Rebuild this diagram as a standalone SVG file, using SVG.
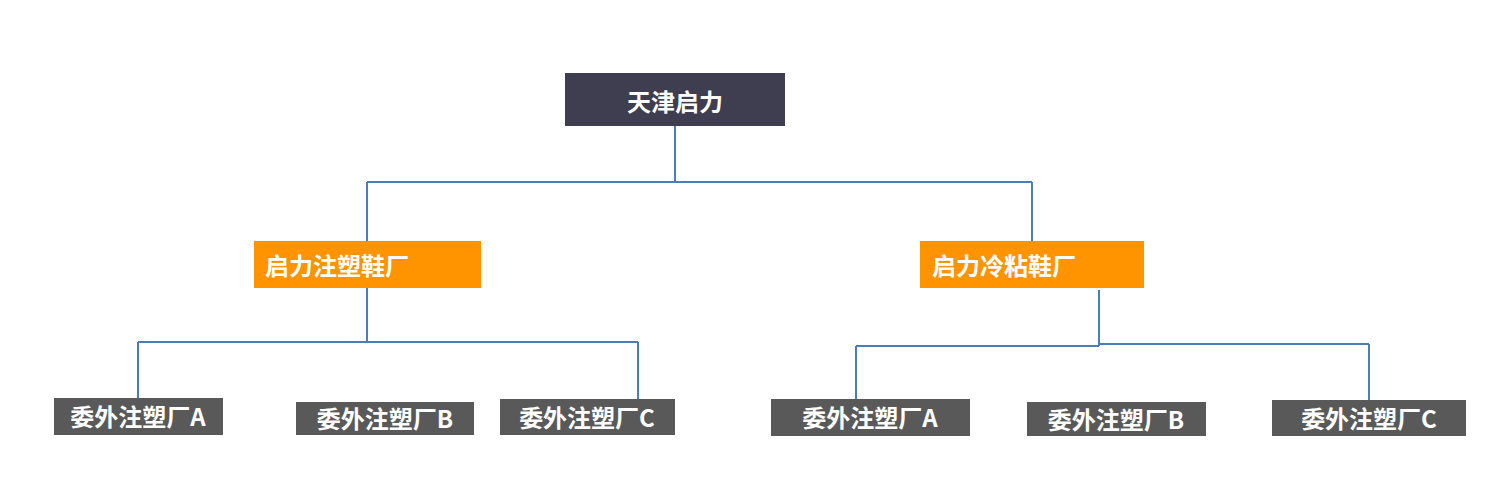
<svg xmlns="http://www.w3.org/2000/svg" width="1511" height="503" viewBox="0 0 1511 503">
<style>
text{font-family:"Noto Sans CJK SC","Liberation Sans",sans-serif;font-weight:bold;fill:#fff;font-size:24px;dominant-baseline:central}
.top{fill:#3f3d50}
.mid{fill:#ff9400}
.leaf{fill:#595959}
.c{text-anchor:middle}
.conn{fill:none;stroke:#4a7ebb;stroke-width:2}
</style>
<rect width="1511" height="503" fill="#fff"/>
<g id="connectors">
<path class="conn" d="M675,126 V182 M367,182 H1032 M367,182 V241 M1032,182 V241"/>
<path class="conn" d="M367,288 V342 M138,342 H638 M138,342 V398 M638,342 V399"/>
<path class="conn" d="M1099,290 V346 M856,346 H1099 M1099,344 H1369 M856,346 V399 M1369,344 V400"/>
</g>
<g id="root"><rect class="top" x="565" y="73" width="220" height="53"/><text class="c" x="675" y="100">天津启力</text></g>
<g id="mid1"><rect class="mid" x="254" y="241" width="227" height="47"/><text x="265" y="264">启力注塑鞋厂</text></g>
<g id="mid2"><rect class="mid" x="920" y="241" width="224" height="47"/><text x="932" y="264">启力冷粘鞋厂</text></g>
<g id="l1"><rect class="leaf" x="54" y="398" width="169" height="37"/><text class="c" x="138" y="415">委外注塑厂A</text></g>
<g id="l2"><rect class="leaf" x="296" y="402" width="178" height="33"/><text class="c" x="385" y="417">委外注塑厂B</text></g>
<g id="l3"><rect class="leaf" x="500" y="399" width="175" height="36"/><text class="c" x="587" y="416">委外注塑厂C</text></g>
<g id="r1"><rect class="leaf" x="771" y="399" width="199" height="37"/><text class="c" x="870" y="416">委外注塑厂A</text></g>
<g id="r2"><rect class="leaf" x="1027" y="402" width="179" height="34"/><text class="c" x="1116" y="418">委外注塑厂B</text></g>
<g id="r3"><rect class="leaf" x="1272" y="400" width="194" height="36"/><text class="c" x="1369" y="417">委外注塑厂C</text></g>
</svg>
